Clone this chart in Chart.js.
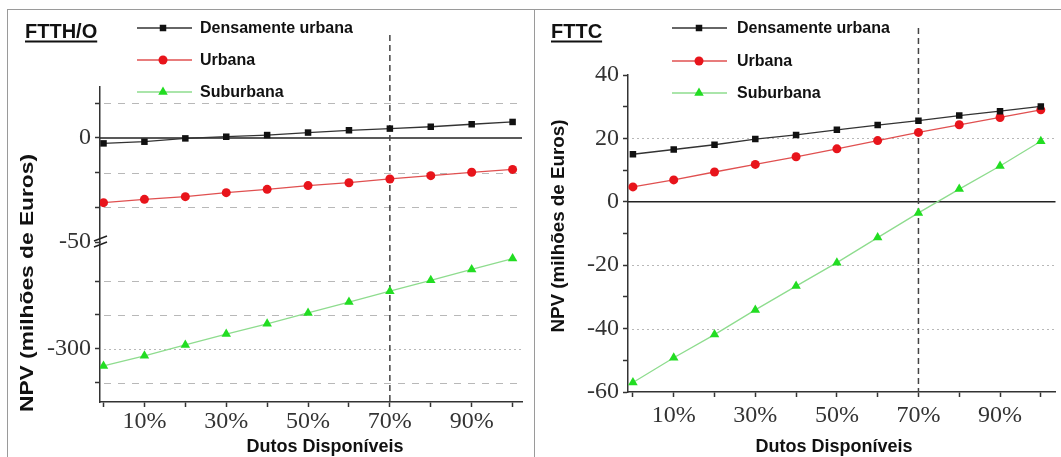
<!DOCTYPE html>
<html>
<head>
<meta charset="utf-8">
<script src="https://cdn.jsdelivr.net/npm/chart.js@4.4.0/dist/chart.umd.min.js"></script>
<style>
  html, body { margin: 0; padding: 0; background: #fff; overflow: hidden; }
  body { width: 1061px; height: 457px; position: relative; }
  .frame { position: absolute; border: 1px solid #9a9a9a; box-sizing: border-box; }
  #frameL { left: 7px; top: 9px; width: 528px; height: 470px; }
  #frameR { left: 534px; top: 9px; width: 560px; height: 470px; }
  .panel { position: absolute; top: 0; height: 457px; }
  #panelL { left: 0; width: 534px; }
  #panelR { left: 534px; width: 527px; }
</style>
</head>
<body>
<div class="frame" id="frameL"></div>
<div class="frame" id="frameR"></div>
<div class="panel" id="panelL"><canvas id="ftthChart"></canvas></div>
<div class="panel" id="panelR"><canvas id="fttcChart"></canvas></div>

<script>
// --- Data (NPV, milhoes de Euros) ---
const dutos = [0, 10, 20, 30, 40, 50, 60, 70, 80, 90, 100];
const seriesNames = ["Densamente urbana", "Urbana", "Suburbana"];

const ftthDensa = [-2.6, -1.8, -0.2, 0.6, 1.4, 2.6, 3.7, 4.5, 5.4, 6.6, 7.7];
const ftthUrbana = [-31.1, -29.5, -28.2, -26.3, -24.7, -22.9, -21.5, -19.7, -18.1, -16.5, -15.1];
const ftthSuburbana = [-325, -310, -294, -278, -263, -247, -231, -215, -199, -183, -167];

const fttcDensa = [15.0, 16.5, 18.0, 19.8, 21.1, 22.7, 24.2, 25.6, 27.2, 28.6, 30.1];
const fttcUrbana = [4.7, 6.9, 9.4, 11.8, 14.2, 16.7, 19.3, 21.9, 24.3, 26.6, 29.0];
const fttcSuburbana = [-57.0, -49.2, -41.9, -34.1, -26.6, -19.2, -11.3, -3.5, 4.0, 11.3, 19.1];

// --- Ticks ---
const xTicks = [0, 10, 20, 30, 40, 50, 60, 70, 80, 90, 100];
const xTickLabels = ["", "10%", "", "30%", "", "50%", "", "70%", "", "90%", ""];

const ftthTopTicks = [16.67, 0, -16.67, -33.33, -50];
const ftthTopLabels = ["", "0", "", "", "-50"];
const ftthLowTicks = [-200, -250, -300, -350];
const ftthLowLabels = ["", "", "-300", ""];

const fttcTicks = [40, 30, 20, 10, 0, -10, -20, -30, -40, -50, -60];
const fttcLabels = ["40", "", "20", "", "0", "", "-20", "", "-40", "", "-60"];

const markerColors = ["#111111", "#e8141b", "#22dd22"];
const lineColors = ["#333333", "#e05050", "#8edc8e"];
const pointStyles = ["rect", "circle", "triangle"];
const pointSizes = [4.6, 4.5, 5.5];

const tickFont = { family: "'Liberation Serif', 'Times New Roman', serif", size: 24 };
const boldSans = "'Liberation Sans', Arial, sans-serif";

// --- helpers ---
function makeDataset(i, ys, yAxisID) {
  return {
    label: seriesNames[i],
    data: dutos.map((x, k) => ({ x: x, y: ys[k] })),
    borderColor: lineColors[i],
    borderWidth: 1.3,
    pointStyle: pointStyles[i],
    pointRadius: pointSizes[i],
    pointBackgroundColor: markerColors[i],
    pointBorderColor: markerColors[i],
    pointBorderWidth: 0,
    tension: 0,
    yAxisID: yAxisID
  };
}

function xScale(min, max, height, pad) {
  return {
    type: "linear", min: min, max: max,
    afterBuildTicks: s => { s.ticks = xTicks.map(v => ({ value: v })); },
    afterFit: s => { s.height = height; },
    ticks: { autoSkip: false, maxRotation: 0, padding: pad, color: "#333", font: tickFont,
             callback: (v, i) => xTickLabels[i] },
    grid: { drawOnChartArea: false, tickLength: 5, tickColor: "#333", tickWidth: 1.5 },
    border: { color: "#333", width: 1.5 }
  };
}

function yScale(min, max, ticks, labels, width, extra) {
  return Object.assign({
    type: "linear", position: "left", min: min, max: max,
    afterBuildTicks: s => { s.ticks = ticks.map(v => ({ value: v })); },
    afterFit: s => { s.width = width; },
    ticks: { autoSkip: false, padding: 4, color: "#333", font: tickFont,
             callback: (v, i) => labels[i] },
    grid: { drawOnChartArea: false, tickLength: 5, tickColor: "#333", tickWidth: 1.5 },
    border: { color: "#333", width: 1.5 }
  }, extra || {});
}

function drawMarker(ctx, style, x, y, r, color) {
  ctx.fillStyle = color;
  ctx.beginPath();
  if (style === "rect") {
    const s = r * Math.SQRT1_2;
    ctx.rect(x - s, y - s, 2 * s, 2 * s);
  } else if (style === "circle") {
    ctx.arc(x, y, r, 0, Math.PI * 2);
  } else {
    ctx.moveTo(x, y - r);
    ctx.lineTo(x + 0.866 * r, y + 0.5 * r);
    ctx.lineTo(x - 0.866 * r, y + 0.5 * r);
    ctx.closePath();
  }
  ctx.fill();
}

function hLine(ctx, x1, x2, y) {
  ctx.beginPath(); ctx.moveTo(x1, y); ctx.lineTo(x2, y); ctx.stroke();
}

// --- decorations: grid, zero line, 70% marker, legend, titles ---
function decor(opt) {
  return {
    id: "decor",
    beforeDatasetsDraw(chart) {
      const ctx = chart.ctx, area = chart.chartArea;
      ctx.save();
      ctx.lineWidth = 1;
      ctx.strokeStyle = "#b8b8b8";
      opt.grids.forEach(g => {
        const sc = chart.scales[g.axis];
        ctx.setLineDash(g.dash);
        g.values.forEach(v => hLine(ctx, area.left + 4, area.right, Math.round(sc.getPixelForValue(v)) + 0.5));
      });
      ctx.setLineDash([]);
      ctx.strokeStyle = "#222";
      ctx.lineWidth = 1.5;
      hLine(ctx, area.left, area.right, chart.scales[opt.zeroAxis].getPixelForValue(0));

      const xv = chart.scales.x.getPixelForValue(70);
      ctx.strokeStyle = "#444";
      ctx.setLineDash([6, 4]);
      ctx.beginPath(); ctx.moveTo(xv, opt.vTop); ctx.lineTo(xv, area.bottom); ctx.stroke();
      ctx.restore();
    },
    afterDraw(chart) {
      const ctx = chart.ctx, area = chart.chartArea;
      ctx.save();

      // axis break
      if (opt.breakAxis) {
        const yb = chart.scales[opt.breakAxis].bottom;
        const xb = area.left;
        ctx.strokeStyle = "#222"; ctx.lineWidth = 1.4;
        ctx.beginPath();
        ctx.moveTo(xb - 6, yb - 1); ctx.lineTo(xb + 7, yb - 6);
        ctx.moveTo(xb - 6, yb + 5); ctx.lineTo(xb + 7, yb);
        ctx.stroke();
      }

      // title, underlined
      ctx.fillStyle = "#111";
      ctx.font = "bold 20px " + boldSans;
      ctx.textBaseline = "alphabetic";
      ctx.textAlign = "left";
      ctx.fillText(opt.title, opt.titleX, 38);
      const tw = ctx.measureText(opt.title).width;
      ctx.fillRect(opt.titleX, 40.5, tw, 2);

      // legend
      ctx.font = "bold 16px " + boldSans;
      ctx.textBaseline = "middle";
      chart.data.datasets.forEach((d, i) => {
        const y = opt.legendY[i];
        ctx.strokeStyle = d.borderColor; ctx.lineWidth = 1.3;
        hLine(ctx, opt.legendX[0], opt.legendX[1], y);
        drawMarker(ctx, d.pointStyle, opt.legendX[2], y, d.pointRadius, d.pointBackgroundColor);
        ctx.fillStyle = "#111";
        ctx.fillText(d.label, opt.legendX[3], y + 1);
      });

      // axis titles
      ctx.textAlign = "center";
      ctx.font = "bold 18px " + boldSans;
      ctx.fillText("Dutos Disponíveis", opt.xTitleX, 447);

      ctx.translate(opt.yTitleX, opt.yTitleY);
      ctx.rotate(-Math.PI / 2);
      const yt = "NPV (milhões de Euros)";
      ctx.scale(opt.yTitleLen / ctx.measureText(yt).width, 1);
      ctx.fillText(yt, 0, 0);
      ctx.restore();
    }
  };
}

const baseOptions = {
  responsive: true,
  maintainAspectRatio: false,
  animation: false,
  events: [],
  plugins: { legend: { display: false }, tooltip: { enabled: false } }
};

// --- FTTH/O (broken y axis: two stacked scales) ---
new Chart(document.getElementById("ftthChart"), {
  type: "line",
  data: {
    datasets: [
      makeDataset(0, ftthDensa, "yTop"),
      makeDataset(1, ftthUrbana, "yTop"),
      makeDataset(2, ftthSuburbana, "yLow")
    ]
  },
  options: Object.assign({}, baseOptions, {
    layout: { padding: { top: 87, right: 12, left: 0, bottom: 0 } },
    scales: {
      x: xScale(-0.86, 102.3, 55, 0),
      yLow: yScale(-378, -142.6, ftthLowTicks, ftthLowLabels, 100, { stack: "ftth", stackWeight: 160 }),
      yTop: yScale(-50, 24.5, ftthTopTicks, ftthTopLabels, 100, { stack: "ftth", stackWeight: 155 })
    }
  }),
  plugins: [decor({
    title: "FTTH/O", titleX: 25,
    legendX: [137, 192, 163, 200], legendY: [28, 60, 92],
    grids: [
      { axis: "yTop", values: [16.67, -16.67, -33.33], dash: [7, 7] },
      { axis: "yLow", values: [-200, -250, -350], dash: [7, 7] },
      { axis: "yLow", values: [-300], dash: [2, 3] }
    ],
    zeroAxis: "yTop", vTop: 35, breakAxis: "yTop",
    xTitleX: 325, yTitleX: 28, yTitleY: 283, yTitleLen: 258
  })]
});

// --- FTTC ---
new Chart(document.getElementById("fttcChart"), {
  type: "line",
  data: {
    datasets: [
      makeDataset(0, fttcDensa, "y"),
      makeDataset(1, fttcUrbana, "y"),
      makeDataset(2, fttcSuburbana, "y")
    ]
  },
  options: Object.assign({}, baseOptions, {
    layout: { padding: { top: 75, right: 0, left: 0, bottom: 0 } },
    scales: {
      x: xScale(-1.21, 103.6, 65, 4),
      y: yScale(-60, 40, fttcTicks, fttcLabels, 94)
    }
  }),
  plugins: [decor({
    title: "FTTC", titleX: 17,
    legendX: [138, 193, 165, 203], legendY: [28, 61, 93],
    grids: [{ axis: "y", values: [20, -20, -40], dash: [2, 3] }],
    zeroAxis: "y", vTop: 28, breakAxis: null,
    xTitleX: 300, yTitleX: 25, yTitleY: 226, yTitleLen: 213
  })]
});
</script>
</body>
</html>
